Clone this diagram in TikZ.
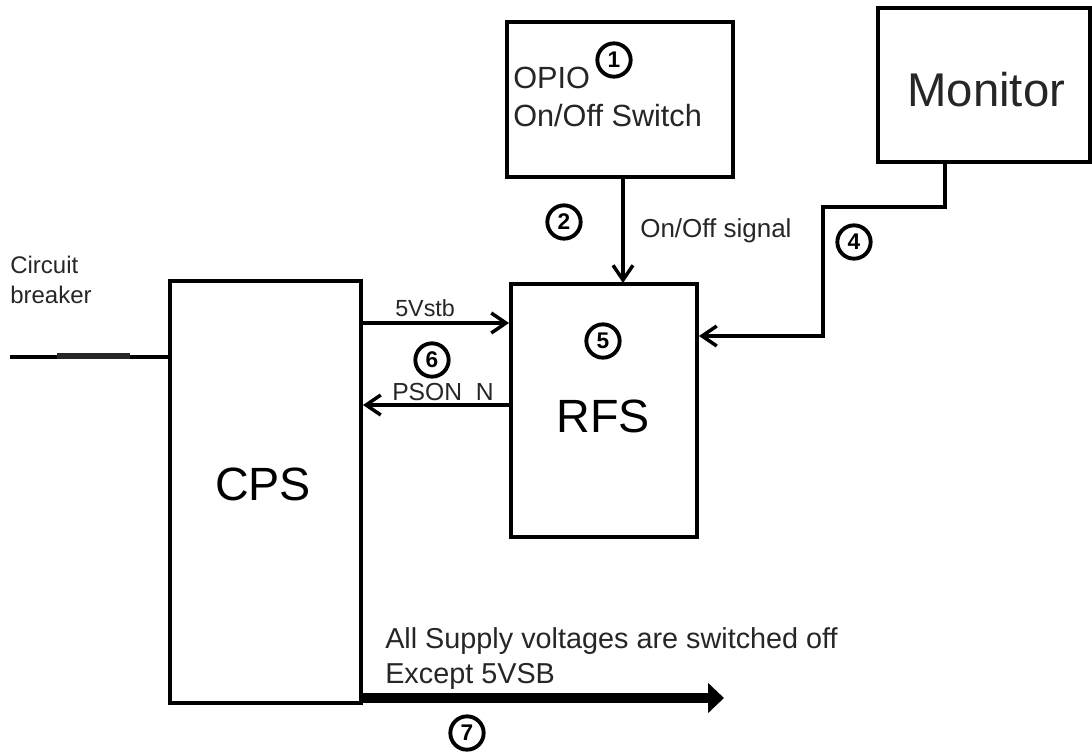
\documentclass[tikz,border=0pt]{standalone}
\usepackage{fontspec}
\setmainfont{Liberation Sans}
\usetikzlibrary{arrows.meta}
\begin{document}
\begin{tikzpicture}[x=0.75pt,y=-0.75pt,
  box/.style={draw=black,line width=3.4pt,fill=white},
  conn/.style={line width=2.6pt,-{Straight Barb[length=11pt,width=15pt,line width=2.6pt]}},
  plain/.style={line width=2.6pt},
  lbl/.style={inner sep=0pt,anchor=base west,text=black!85},
  num/.style={circle,draw=black,line width=2.9pt,inner sep=0pt,minimum size=25pt,font=\fontsize{17}{17}\selectfont\bfseries}
]
\useasboundingbox (0,0) rectangle (1092,753);
% boxes
\draw[box] (507,22) rectangle (733,177);
\draw[box] (878,8) rectangle (1090,162);
\draw[box] (170,281) rectangle (361,703);
\draw[box] (511,284) rectangle (697,537);
% texts in boxes
\node[lbl,font=\fontsize{23}{23}\selectfont] (opio) at (513,88) {OPIO};
\node[lbl,font=\fontsize{23}{23}\selectfont] (sw) at (513,126) {On/Off Switch};
\node[lbl,font=\fontsize{35.5}{35.5}\selectfont] (mon) at (907,106) {Monitor};
\node[font=\fontsize{35}{35}\selectfont,inner sep=0pt,anchor=base] (rfs) at (603,432) {RFS};
\node[font=\fontsize{35}{35}\selectfont,inner sep=0pt,anchor=base] (cps) at (263,500) {CPS};
% coordinates
\coordinate (a1) at (623,178);
\coordinate (a2) at (623,283);
\coordinate (m0) at (945,162);
\coordinate (m1) at (945,207);
\coordinate (m2) at (823,207);
\coordinate (m3) at (823,336);
\coordinate (m4) at (699,336);
\coordinate (v1) at (361,323);
\coordinate (v2) at (509,323);
\coordinate (p1) at (511,405);
\coordinate (p2) at (363,405);
\coordinate (cb1) at (10,357);
\coordinate (cb2) at (168,357);
\coordinate (cba) at (57,356);
\coordinate (cbb) at (130,356);
\coordinate (b1) at (361,698);
\coordinate (b2) at (724,698);
% circuit breaker
\draw[plain] (cb1) -- (cb2);
\draw[line width=4.2pt,black!85] (cba) -- (cbb);
\node[lbl,font=\fontsize{18}{18}\selectfont] (cbt1) at (10,273) {Circuit};
\node[lbl,font=\fontsize{18}{18}\selectfont] (cbt2) at (10,303) {breaker};
% connectors
\draw[conn] (a1) -- (a2);
\draw[conn] (m0) -- (m1) -- (m2) -- (m3) -- (m4);
\draw[conn] (v1) -- (v2);
\node[lbl,font=\fontsize{17.5}{17.5}\selectfont] (vst) at (395,316) {5Vstb};
\node[lbl,font=\fontsize{18.5}{18.5}\selectfont] (pson) at (392,400) {PSON\_N};
\draw[conn] (p1) -- (p2);
\node[lbl,font=\fontsize{19.5}{19.5}\selectfont] (onoff) at (640,237) {On/Off signal};
% bottom arrow
\draw[line width=7.5pt,-{Triangle[length=12pt,width=22pt]}] (b1) -- (b2);
\node[lbl,font=\fontsize{21.6}{21.6}\selectfont] (all1) at (385,648) {All Supply voltages are switched off};
\node[lbl,font=\fontsize{21.6}{21.6}\selectfont] (all2) at (385,683) {Except 5VSB};
% numbers
\node[num] (n1) at (614,60) {1};
\node[num] (n2) at (564,222) {2};
\node[num] (n4) at (854,242) {4};
\node[num] (n5) at (603,341) {5};
\node[num] (n6) at (432,360) {6};
\node[num] (n7) at (467,733) {7};
\end{tikzpicture}
\end{document}
